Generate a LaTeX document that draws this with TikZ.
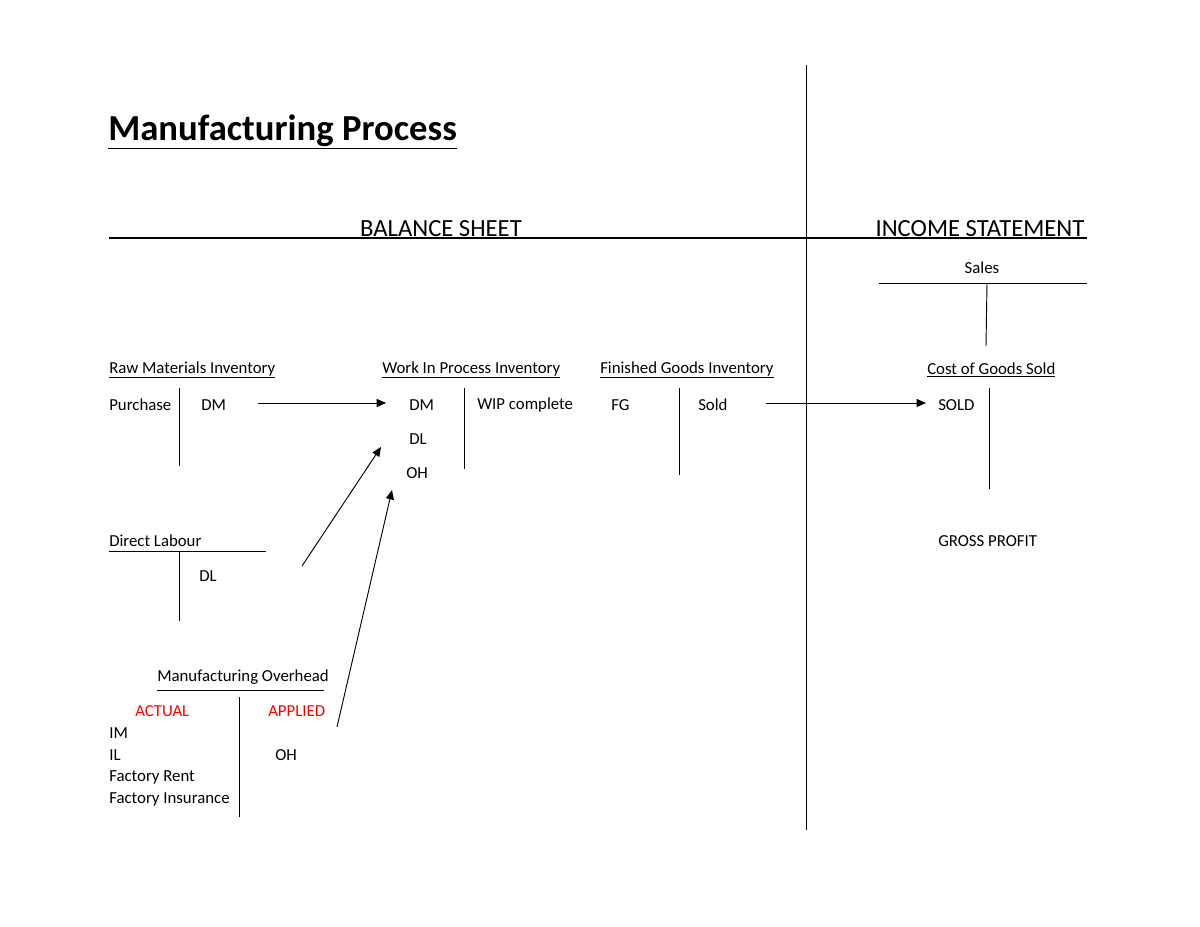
\documentclass[tikz,border=0pt]{standalone}
\usepackage{fontspec}
\setmainfont{Carlito}
\usetikzlibrary{arrows.meta}
\begin{document}
\begin{tikzpicture}[x=0.75pt,y=-0.75pt,
  t/.style={anchor=west,inner sep=0,font=\fontsize{12.6}{14}\selectfont},
  red/.style={t,text=red},
  ln/.style={line width=0.7pt},
  arr/.style={line width=0.7pt,-{Triangle[length=7pt,width=6pt]}}]
\useasboundingbox (0,0) rectangle (1200,927);
\node[anchor=west,inner sep=0,font=\fontsize{27.5}{30}\selectfont\bfseries] (title) at (108,132) {\underline{Manufacturing Process}};
\draw[ln] (806,65) -- (806,830);
\draw[line width=1.1pt] (109,238) -- (1087,238);
\node[inner sep=0,font=\fontsize{18.5}{20}\selectfont] (bs) at (441,229) {BALANCE SHEET};
\node[inner sep=0,font=\fontsize{18.5}{20}\selectfont] (is) at (980,229) {INCOME STATEMENT};
\node[inner sep=0,font=\fontsize{12.6}{14}\selectfont] (sales) at (982,268) {Sales};
\draw[ln] (879,283) -- (1087,283); \draw[ln] (987,283) -- (986,346);
% Raw materials
\node[t] (rm) at (109,370) {\underline{Raw Materials Inventory}};
\node[t] (pur) at (109,405) {Purchase};
\node[t] (rmdm) at (201,405) {DM};
\draw[ln] (179,388) -- (179,466);
% WIP
\node[t] (wip) at (382,370) {\underline{Work In Process Inventory}};
\node[t] (wdm) at (409,405) {DM};
\node[t] (wc) at (477,405) {WIP complete};
\node[t] (wdl) at (409,439) {DL};
\node[t] (woh) at (406,473) {OH};
\draw[ln] (464,388) -- (464,469);
% FG
\node[t] (fg) at (600,370) {\underline{Finished Goods Inventory}};
\node[t] (fgfg) at (611,405) {FG};
\node[t] (sold) at (698,405) {Sold};
\draw[ln] (679,388) -- (679,475);
% COGS
\node[t] (cogs) at (927,370) {\underline{Cost of Goods Sold}};
\node[t] (cs) at (938,405) {SOLD};
\draw[ln] (989,388) -- (989,489);
\node[t] (gp) at (938,541) {GROSS PROFIT};
% DL
\node[t] (dlab) at (109,541) {Direct Labour};
\draw[ln] (109,551) -- (266,551);
\node[t] (dl) at (199,576) {DL};
\draw[ln] (179,551) -- (179,621);
% MOH
\node[t] (moh) at (157,677) {Manufacturing Overhead};
\draw[ln] (157,690) -- (324,690);
\node[red] (act) at (135,711) {ACTUAL};
\node[red] (app) at (268,711) {APPLIED};
\node[t] (im) at (109,733) {IM};
\node[t] (il) at (109,755) {IL};
\node[t] (oh) at (275,755) {OH};
\node[t] (fr) at (109,777) {Factory Rent};
\node[t] (fi) at (109,799) {Factory Insurance};
\draw[ln] (239,697) -- (239,817);
% arrows
\coordinate (a1) at (258,403); \coordinate (b1) at (386,403);
\draw[arr] (a1) -- (b1);
\coordinate (a2) at (766,403); \coordinate (b2) at (926,403);
\draw[arr] (a2) -- (b2);
\coordinate (a3) at (302,566); \coordinate (b3) at (381,447);
\draw[arr] (a3) -- (b3);
\coordinate (a4) at (337,727); \coordinate (b4) at (392,490);
\draw[arr] (a4) -- (b4);
\end{tikzpicture}
\end{document}
